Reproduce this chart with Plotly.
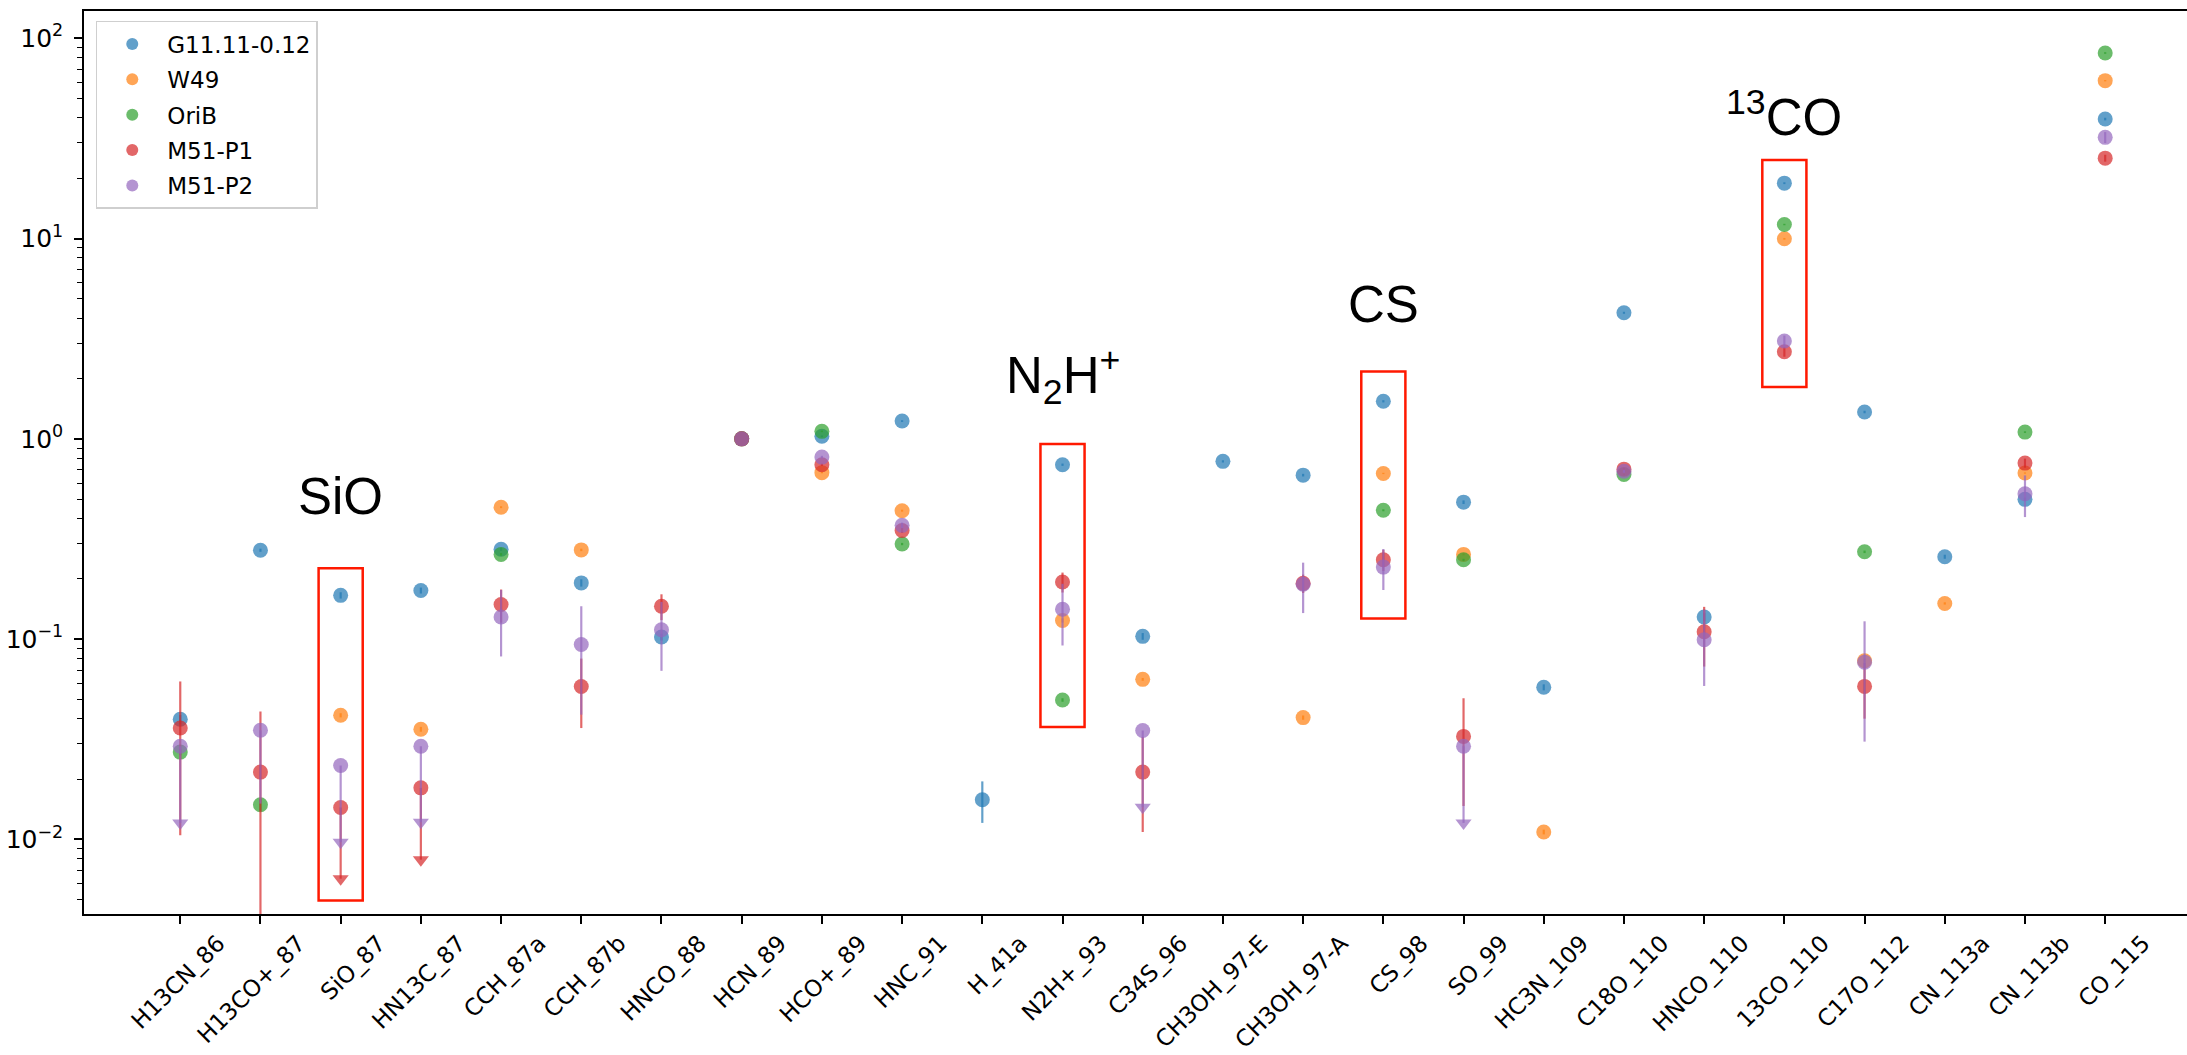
import math
import plotly.graph_objects as go

# ---------------- data ----------------
categories = ['H13CN_86', 'H13CO+_87', 'SiO_87', 'HN13C_87', 'CCH_87a', 'CCH_87b',
              'HNCO_88', 'HCN_89', 'HCO+_89', 'HNC_91', 'H_41a', 'N2H+_93', 'C34S_96',
              'CH3OH_97-E', 'CH3OH_97-A', 'CS_98', 'SO_99', 'HC3N_109', 'C18O_110',
              'HNCO_110', '13CO_110', 'C17O_112', 'CN_113a', 'CN_113b', 'CO_115']

g11 = [0.0398, 0.278, 0.1655, 0.175, 0.281, 0.191, 0.1025, 1.0, 1.03, 1.227, 0.0158, 0.743,
       0.1033, 0.772, 0.659, 1.54, 0.483, 0.0575, 4.26, 0.129, 18.9, 1.362, 0.258, 0.499, 39.5]
g11_err = [0.002, 0.005, 0.006, 0.006, 0.005, 0.008, 0.004, 0.0, 0.01, 0.012, 0.0037, 0.01,
           0.004, 0.01, 0.01, 0.02, 0.01, 0.002, 0.05, 0.006, 0.2, 0.02, 0.006, 0.01, 0.6]

w49 = [None, None, 0.0417, 0.0355, 0.456, 0.279, None, 1.0, 0.678, 0.438, None, 0.124,
       0.063, None, 0.0406, 0.672, 0.265, 0.0109, None, None, 9.97, 0.078, 0.1508, 0.675, 61.4]
w49_err = [None, None, 0.001, 0.001, 0.005, 0.004, None, 0.0, 0.005, 0.005, None, 0.003,
           0.001, None, 0.001, 0.005, 0.003, 0.0003, None, None, 0.1, 0.002, 0.002, 0.005, 0.5]

orib = [0.0273, 0.0149, None, None, 0.265, None, None, 1.0, 1.09, 0.2985, None, 0.0497,
        None, None, None, 0.440, 0.249, None, 0.664, None, 11.75, 0.273, None, 1.081, 84.4]
orib_err = [0.001, 0.001, None, None, 0.004, None, None, 0.0, 0.01, 0.004, None, 0.001,
            None, None, None, 0.005, 0.003, None, 0.006, None, 0.1, 0.004, None, 0.01, 0.8]

m51p1 = [0.036, 0.0217, 0.01445, 0.0181, 0.149, 0.058, 0.146, 1.0, 0.743, 0.349, None, 0.193,
         0.0217, None, 0.190, 0.249, 0.0327, None, 0.706, 0.109, 2.72, 0.0581, None, 0.757, 25.2]
m51p1_err_up = [0.0255, 0.0218, 0.0, 0.0, 0.028, 0.022, 0.0215, 0.0, 0.01, 0.01, None, 0.022,
                0.0108, None, 0.02, 0.03, 0.018, None, 0.01, 0.036, 0.15, 0.018, None, 0.04, 1.0]
m51p1_err_down = [0.0255, 0.02165, 0.0, 0.0, 0.028, 0.022, 0.0215, 0.0, 0.01, 0.01, None, 0.022,
                  0.0108, None, 0.02, 0.03, 0.018, None, 0.01, 0.036, 0.15, 0.018, None, 0.04, 1.0]
m51p1_uplim = [None, None, 0.00637, 0.00793, None, None, None, None, None, None, None, None,
               None, None, None, None, None, None, None, None, None, None, None, None, None]

m51p2 = [0.0292, 0.0351, 0.0234, 0.0292, 0.129, 0.094, 0.1115, 1.0, 0.811, 0.370, None, 0.141,
         0.035, None, 0.188, 0.229, 0.0292, None, 0.689, 0.0994, 3.08, 0.0768, None, 0.532, 32.0]
m51p2_err_up = [0.0, 0.0, 0.0, 0.0, 0.047, 0.052, 0.042, 0.0, 0.012, 0.012, None, 0.048,
                0.0, None, 0.053, 0.053, 0.0, None, 0.012, 0.041, 0.2, 0.046, None, 0.125, 2.0]
m51p2_err_down = [0.0, 0.020, 0.0, 0.0, 0.047, 0.052, 0.042, 0.0, 0.012, 0.012, None, 0.048,
                  0.0, None, 0.053, 0.053, 0.0, None, 0.012, 0.041, 0.2, 0.046, None, 0.125, 2.0]
m51p2_uplim = [0.0121, None, 0.0097, 0.0122, None, None, None, None, None, None, None, None,
               0.0145, None, None, None, 0.0121, None, None, None, None, None, None, None, None]

# highlighted molecules: (label, category, box y low, box y high, label y)
highlights = [
    ("SiO", "SiO_87", 0.00496, 0.2257, 0.516),
    ("N<sub>2</sub>H<sup>+</sup>", "N2H+_93", 0.0364, 0.944, 2.05),
    ("CS", "CS_98", 0.127, 2.17, 4.69),
    ("<sup>13</sup>CO", "13CO_110", 1.816, 24.7, 42.0),
]

# ---------------- styling ----------------
names = ['G11.11-0.12', 'W49', 'OriB', 'M51-P1', 'M51-P2']
colors = ['31,119,180', '255,127,14', '44,160,44', '214,39,40', '148,103,189']
ALPHA = 0.7

series = [
    (g11, g11_err, g11_err, None),
    (w49, w49_err, w49_err, None),
    (orib, orib_err, orib_err, None),
    (m51p1, m51p1_err_up, m51p1_err_down, m51p1_uplim),
    (m51p2, m51p2_err_up, m51p2_err_down, m51p2_uplim),
]

fig = go.Figure()

for k, (vals, eup, edn, ulim) in enumerate(series):
    col = f"rgba({colors[k]},{ALPHA})"
    xs, ys, ep, em = [], [], [], []
    ux, uy = [], []
    for i, v in enumerate(vals):
        if v is None:
            continue
        xs.append(categories[i])
        ys.append(v)
        if ulim is not None and ulim[i] is not None:
            ep.append(0.0)
            em.append(v - ulim[i])
            ux.append(categories[i])
            uy.append(ulim[i])
        else:
            ep.append(eup[i] if eup[i] is not None else 0.0)
            em.append(edn[i] if edn[i] is not None else 0.0)
    fig.add_trace(go.Scatter(
        x=xs, y=ys, mode='markers', name=names[k], legendgroup=names[k],
        marker=dict(size=15, color=col, line=dict(width=0)),
        error_y=dict(type='data', symmetric=False, array=ep, arrayminus=em,
                     color=col, thickness=2.2, width=0),
    ))
    if ux:
        fig.add_trace(go.Scatter(
            x=ux, y=uy, mode='markers', showlegend=False, legendgroup=names[k],
            marker=dict(symbol='triangle-down', size=14, color=col, line=dict(width=0)),
            hoverinfo='skip',
        ))

# red boxes and labels
BOX_HALF = 0.275
annotations = []
shapes = []
for label, cat, ylo, yhi, ylab in highlights:
    ci = categories.index(cat)
    shapes.append(dict(type='rect', xref='x', yref='y',
                       x0=ci - BOX_HALF, x1=ci + BOX_HALF, y0=ylo, y1=yhi,
                       line=dict(color='rgb(255,25,0)', width=2.5), fillcolor='rgba(0,0,0,0)'))
    annotations.append(dict(x=ci, y=math.log10(ylab), xref='x', yref='y', text=label,
                            showarrow=False, xanchor='center', yanchor='middle',
                            font=dict(family='Liberation Sans, Arial', size=51, color='black')))

major = [10 ** e for e in range(-2, 3)]
major_text = ['10<sup>\u22122</sup>', '10<sup>\u22121</sup>', '10<sup>0</sup>',
              '10<sup>1</sup>', '10<sup>2</sup>']
minor = [m * 10 ** e for e in range(-3, 3) for m in range(2, 10)]

fig.update_layout(
    width=2187, height=1055,
    margin=dict(l=84, r=0, t=11, b=141, pad=0),
    paper_bgcolor='white', plot_bgcolor='white',
    font=dict(family='DejaVu Sans', size=23, color='black'),
    showlegend=True,
    legend=dict(x=0.0056, y=0.989, xanchor='left', yanchor='top',
                bgcolor='rgba(255,255,255,0.8)', bordercolor='#cfcfcf', borderwidth=1.5,
                font=dict(family='DejaVu Sans', size=23, color='black'),
                tracegroupgap=2.5, itemsizing='constant', itemwidth=60),
    xaxis=dict(type='category', categoryorder='array', categoryarray=categories,
               range=[-1.2, 25.02], showgrid=False, zeroline=False, automargin=False,
               showline=True, linecolor='black', linewidth=1.5, mirror=True,
               ticks='outside', ticklen=8, tickwidth=1.5, tickcolor='black',
               showticklabels=True, tickangle=-45, ticklabelshift=38, ticklabelstandoff=-3,
               tickfont=dict(family='DejaVu Sans', size=23, color='black')),
    yaxis=dict(type='log', range=[-2.372, 2.136], showgrid=False, zeroline=False,
               automargin=False,
               showline=True, linecolor='black', linewidth=1.5, mirror=False,
               ticks='outside', ticklen=8, tickwidth=1.5, tickcolor='black',
               tickvals=major, ticktext=major_text, ticklabelstandoff=6,
               tickfont=dict(family='DejaVu Sans', size=25, color='black'),
               minor=dict(tickvals=minor, ticks='outside', ticklen=5, tickwidth=1.2,
                          tickcolor='black', showgrid=False)),
    shapes=shapes,
    annotations=annotations,
)

fig.write_html("out.html", config={'displayModeBar': False},
               post_script="document.body.style.margin='0';document.body.style.overflow='hidden';")
